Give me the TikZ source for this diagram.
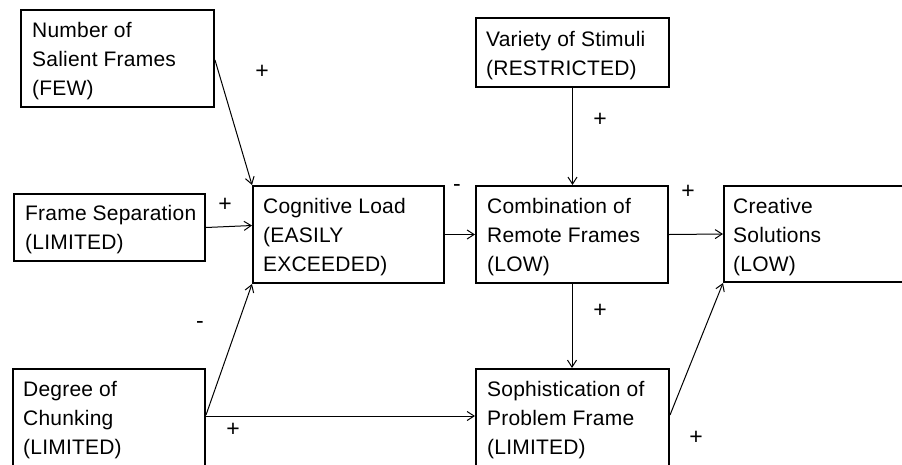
\documentclass[tikz,border=0pt]{standalone}
\usepackage{fontspec}
\setmainfont{Liberation Sans}[LetterSpace=1]
\usetikzlibrary{arrows.meta}
\begin{document}
\begin{tikzpicture}[x=1pt,y=-1pt,
  box/.style={draw, line width=2pt, inner sep=0pt, anchor=north west},
  lbl/.style={anchor=north west, inner sep=0pt, align=left, font=\fontsize{21}{29}\selectfont},
  sign/.style={font=\fontsize{23}{25}\selectfont, inner sep=0pt},
  conn/.style={line width=1pt, -{Straight Barb[length=7pt,width=9pt]}}]
\useasboundingbox (0,0) rectangle (902,464);
\clip (0,0) rectangle (902,464);
% boxes
\node[box, minimum width=193pt, minimum height=97pt] (num) at (20,9) {};
\node[box, minimum width=191pt, minimum height=67pt] (sep) at (13,193) {};
\node[box, minimum width=192pt, minimum height=120pt] (chunk) at (12,368) {};
\node[box, minimum width=191pt, minimum height=97pt] (cog) at (252,185) {};
\node[box, minimum width=193pt, minimum height=69pt] (var) at (475,17) {};
\node[box, minimum width=192pt, minimum height=97pt] (comb) at (475,185) {};
\node[box, minimum width=193pt, minimum height=120pt] (soph) at (475,368) {};
\node[box, minimum width=200pt, minimum height=96pt] (cre) at (723,185) {};
% texts
\node[lbl] (numt) at ([shift={(12,13)}]num.north west) {Number of\\Salient Frames\\(FEW)};
\node[lbl] (sept) at ([shift={(12,12)}]sep.north west) {Frame Separation\\(LIMITED)};
\node[lbl] (chunkt) at ([shift={(11,13)}]chunk.north west) {Degree of\\Chunking\\(LIMITED)};
\node[lbl] (cogt) at ([shift={(11,13)}]cog.north west) {Cognitive Load\\(EASILY\\EXCEEDED)};
\node[lbl] (vart) at ([shift={(11,14)}]var.north west) {Variety of Stimuli\\(RESTRICTED)};
\node[lbl] (combt) at ([shift={(12,13)}]comb.north west) {Combination of\\Remote Frames\\(LOW)};
\node[lbl] (sopht) at ([shift={(12,13)}]soph.north west) {Sophistication of\\Problem Frame\\(LIMITED)};
\node[lbl] (cret) at ([shift={(10,13)}]cre.north west) {Creative\\Solutions\\(LOW)};
% connectors
\draw[conn] ([shift={(0,51)}]num.north east) -- (cog.north west);
\draw[conn] (sep.east) -- ([shift={(0,-9)}]cog.west);
\draw[conn] ([shift={(0,47)}]chunk.north east) -- (cog.south west);
\draw[conn] ([shift={(0,48)}]chunk.north east) -- ([shift={(0,48)}]soph.north west);
\draw[conn] (cog.east) -- (comb.west);
\draw[conn] (var.south) -- (var.south |- comb.north);
\draw[conn] (comb.south) -- (comb.south |- soph.north);
\draw[conn] (comb.east) -- (cre.west);
\draw[conn] ([shift={(0,47)}]soph.north east) -- (cre.south west);
% signs
\node[sign] (s1) at (262,72) {+};
\node[sign] (s2) at (225,205) {+};
\node[sign] (s3) at (457,188) {-};
\node[sign] (s4) at (688,192) {+};
\node[sign] (s5) at (600,120) {+};
\node[sign] (s6) at (200,325) {-};
\node[sign] (s7) at (233,430) {+};
\node[sign] (s8) at (600,311) {+};
\node[sign] (s9) at (696,438) {+};
\end{tikzpicture}
\end{document}
